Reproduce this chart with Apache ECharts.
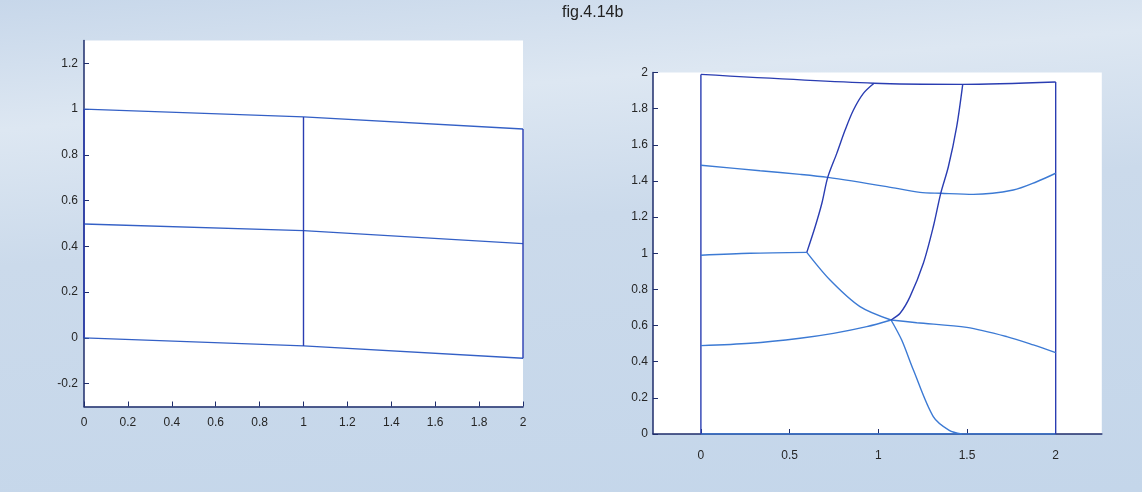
<!DOCTYPE html>
<html>
<head>
<meta charset="utf-8">
<script src="https://cdn.jsdelivr.net/npm/echarts@6/dist/echarts.min.js"></script>
<style>
  html, body { margin: 0; padding: 0; }
  body {
    width: 1142px;
    height: 492px;
    background: linear-gradient(175deg, #c7d7ea 0%, #dde7f2 22%, #cbdaeb 45%, #c4d6ea 100%);
  }
  #chart { width: 1142px; height: 492px; }
</style>
</head>
<body>
<div id="chart"></div>
<script>
// left mesh: three nodes per row, rows
const leftNodeX = [0, 1, 2];
const leftRow0 = [0, -0.035, -0.089];
const leftRow1 = [0.498, 0.469, 0.412];
const leftRow2 = [1, 0.966, 0.913];
const leftXTicks = [0, 0.2, 0.4, 0.6, 0.8, 1, 1.2, 1.4, 1.6, 1.8, 2];
const leftYTicks = [-0.2, 0, 0.2, 0.4, 0.6, 0.8, 1, 1.2];

// right mesh: each curve as [x, y] points, split at the kinked nodes
const rightBottom = [[0, 0], [1.5, 0], [2, 0]];
const rightTop = [[0, 1.99], [0.976, 1.941], [1.476, 1.935], [2, 1.948]];
const rightLeftEdge = [[0, 0], [0, 0.489], [0, 0.989], [0, 1.487], [0, 1.99]];
const rightRightEdge = [[2, 0], [2, 0.45], [2, 1.443], [2, 1.948]];
const rightRow1a = [[0, 0.489], [0.278, 0.502], [0.559, 0.53], [0.747, 0.557], [0.935, 0.594], [1.072, 0.631]];
const rightRow1b = [[1.072, 0.631], [1.217, 0.616], [1.499, 0.59], [1.724, 0.539], [1.874, 0.493], [2, 0.45]];
const rightRow2 = [[0, 0.989], [0.278, 1.0], [0.597, 1.005]];
const rightRow3 = [[0, 1.487], [0.334, 1.457], [0.559, 1.437], [0.715, 1.42], [1.048, 1.369],
  [1.235, 1.337], [1.352, 1.332], [1.536, 1.326], [1.761, 1.35], [1.893, 1.396], [2, 1.443]];
const rightDiagA = [[0.597, 1.005], [0.728, 0.852], [0.897, 0.705], [1.072, 0.631]];
const rightDiagB = [[1.072, 0.631], [1.132, 0.52], [1.198, 0.354], [1.31, 0.096], [1.4, 0.02], [1.47, 0]];
const rightCol1 = [[0.976, 1.941], [0.916, 1.885], [0.86, 1.793], [0.813, 1.682], [0.766, 1.553],
  [0.715, 1.42], [0.682, 1.277], [0.644, 1.147], [0.597, 1.005]];
const rightCol2 = [[1.476, 1.935], [1.442, 1.701], [1.395, 1.479], [1.352, 1.332], [1.31, 1.147],
  [1.254, 0.945], [1.179, 0.76], [1.123, 0.668], [1.072, 0.631]];
const rightXTicks = [0, 0.5, 1, 1.5, 2];
const rightYTicks = [0, 0.2, 0.4, 0.6, 0.8, 1, 1.2, 1.4, 1.6, 1.8, 2];

const dark = "#2a3db2";
const light = "#3c7ad4";
const axisColor = "#1e2d6b";
const labelFont = { color: "#262626", fontSize: 12, fontFamily: "'Liberation Sans', Arial, sans-serif" };

function axis(gridIndex, min, max, ticks, margin) {
  return {
    type: "value",
    gridIndex,
    min,
    max,
    axisLine: { show: true, onZero: false, lineStyle: { color: axisColor, width: 1.5 } },
    axisTick: { show: true, inside: true, length: 5, customValues: ticks, lineStyle: { color: axisColor } },
    axisLabel: Object.assign({ customValues: ticks, margin }, labelFont),
    splitLine: { show: false },
  };
}

function mesh(data, color, idx, smooth) {
  return {
    type: "line",
    xAxisIndex: idx,
    yAxisIndex: idx,
    data,
    smooth: smooth || false,
    showSymbol: false,
    symbol: "none",
    lineStyle: { color, width: 1.4 },
    emphasis: { disabled: true },
    silent: true,
  };
}

const leftRows = [leftRow0, leftRow1, leftRow2].map((row) => leftNodeX.map((x, i) => [x, row[i]]));
const leftCols = leftNodeX.map((x, i) => [[x, leftRow0[i]], [x, leftRow1[i]], [x, leftRow2[i]]]);

const chart = echarts.init(document.getElementById("chart"), null, { renderer: "canvas" });

chart.setOption({
  animation: false,
  backgroundColor: "transparent",
  title: {
    text: "fig.4.14b",
    left: 557,
    top: 0,
    textStyle: { fontSize: 16, fontWeight: "normal", color: "#222", fontFamily: "'Liberation Sans Narrow', 'Liberation Sans', sans-serif" },
  },
  grid: [
    { left: 84, top: 40.5, width: 439, height: 366, show: true, backgroundColor: "#ffffff", borderWidth: 0 },
    { left: 653, top: 72.6, width: 448.8, height: 361.4, show: true, backgroundColor: "#ffffff", borderWidth: 0 },
  ],
  xAxis: [
    axis(0, 0, 2, leftXTicks, 10),
    axis(1, -0.27, 2.26, rightXTicks, 16),
  ],
  yAxis: [
    axis(0, -0.3, 1.3, leftYTicks, 6),
    axis(1, 0, 2, rightYTicks, 5),
  ],
  series: [
    ...leftRows.map((d) => mesh(d, "#3460c6", 0)),
    ...leftCols.map((d) => mesh(d, dark, 0)),
    mesh(rightBottom, light, 1),
    mesh(rightTop, dark, 1, 0.3),
    mesh(rightLeftEdge, dark, 1),
    mesh(rightRightEdge, dark, 1),
    mesh(rightRow1a, light, 1, 0.3),
    mesh(rightRow1b, light, 1, 0.3),
    mesh(rightRow2, light, 1, 0.3),
    mesh(rightRow3, light, 1, 0.3),
    mesh(rightDiagA, light, 1, 0.3),
    mesh(rightDiagB, light, 1, 0.3),
    mesh(rightCol1, dark, 1, 0.3),
    mesh(rightCol2, dark, 1, 0.3),
  ],
});
</script>
</body>
</html>
